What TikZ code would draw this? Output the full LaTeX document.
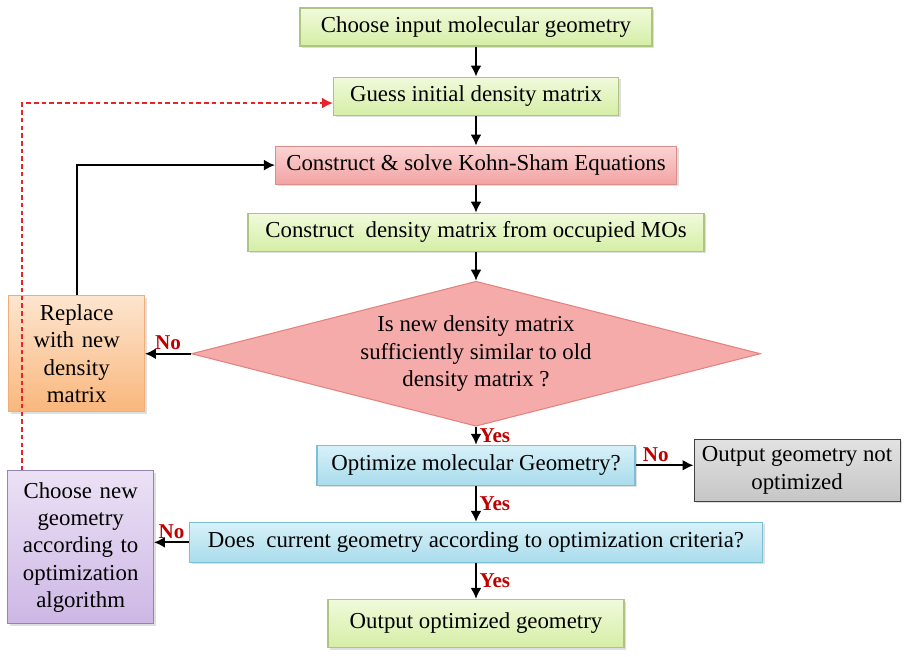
\documentclass[tikz,border=0pt]{standalone}
\usepackage{fontspec}
\setmainfont{Liberation Serif}
\usetikzlibrary{arrows.meta,positioning,shapes.geometric,shadows}
\definecolor{cgrnT}{HTML}{F1FADB}
\definecolor{cgrnB}{HTML}{D5EEA6}
\definecolor{cgrnD}{HTML}{AFC483}
\definecolor{cpnkT}{HTML}{FBD3D3}
\definecolor{cpnkB}{HTML}{F2A3A3}
\definecolor{cpnkD}{HTML}{D98E8C}
\definecolor{cdia}{HTML}{F5ABAA}
\definecolor{cdiaD}{HTML}{E4827F}
\definecolor{cbluT}{HTML}{D8F1F9}
\definecolor{cbluB}{HTML}{A9DCEC}
\definecolor{cbluD}{HTML}{7CC0D6}
\definecolor{corgT}{HTML}{FDE5CF}
\definecolor{corgB}{HTML}{F9B77C}
\definecolor{corgD}{HTML}{EFAE78}
\definecolor{cprpT}{HTML}{EBE1F5}
\definecolor{cprpB}{HTML}{CDB7E5}
\definecolor{cprpD}{HTML}{9584B3}
\definecolor{cgryT}{HTML}{E2E2E2}
\definecolor{cgryB}{HTML}{C6C6C6}
\definecolor{cno}{HTML}{C00000}
\definecolor{cdash}{HTML}{E8242A}
\tikzset{
  fbox/.style={draw, align=center, inner sep=3pt, minimum height=7.6mm,
               font=\fontsize{13}{15.5}\selectfont, line width=0.6pt,
               drop shadow={shadow xshift=1.2pt, shadow yshift=-1.2pt, opacity=0.25}},
  ngrn/.style={fbox, top color=cgrnT, bottom color=cgrnB, draw=cgrnD},
  npnk/.style={fbox, top color=cpnkT, bottom color=cpnkB, draw=cpnkD},
  nblu/.style={fbox, top color=cbluT, bottom color=cbluB, draw=cbluD},
  norg/.style={fbox, top color=corgT, bottom color=corgB, draw=corgD},
  nprp/.style={fbox, top color=cprpT, bottom color=cprpB, draw=cprpD},
  ngry/.style={fbox, top color=cgryT, bottom color=cgryB, draw=black!75},
  ndia/.style={diamond, aspect=3.9, inner sep=0pt, fill=cdia, draw=cdiaD,
               line width=0.6pt, align=center, font=\fontsize{13}{15.5}\selectfont,
               minimum width=11.38cm, minimum height=2.9cm},
  lbl/.style={text=cno, font=\fontsize{12}{14}\selectfont\bfseries, inner sep=1.5pt},
  flow/.style={-{Latex[length=2.2mm,width=2.2mm]}, line width=1.1pt},
  flowd/.style={-{Latex[length=2.2mm,width=2.2mm]}, line width=1.1pt, draw=cdash,
                dash pattern=on 2.6pt off 1.8pt},
}
\begin{document}
\begin{tikzpicture}
  \useasboundingbox (0,0) rectangle (18.12,-13.12);
  % main column
  \node[ngrn, minimum width=7.04cm] (input) at (9.52,-0.54) {Choose input molecular geometry};
  \node[ngrn, minimum width=5.7cm, below=6mm of input] (guess) {Guess initial density matrix};
  \node[npnk, minimum width=8.02cm, below=6mm of guess] (kohn) {Construct \& solve Kohn-Sham Equations};
  \node[ngrn, minimum width=9.12cm, below=5.6mm of kohn] (dens) {Construct\ \ density matrix from occupied MOs};
  \node[ndia, below=5.8mm of dens] (sim) {Is new density matrix\\sufficiently similar to old\\density matrix ?};
  \node[nblu, minimum width=6.36cm, minimum height=8mm, below=3.6mm of sim] (opt) {Optimize molecular Geometry?};
  \node[nblu, minimum width=11.46cm, minimum height=8mm, below=7.2mm of opt] (crit) {Does\ \ current geometry according to optimization criteria?};
  \node[ngrn, minimum width=5.92cm, minimum height=9.6mm, below=7.2mm of crit] (final) {Output optimized geometry};
  % side boxes
  \node[norg, text width=2.5cm, minimum height=2.32cm, left=9.2mm of sim] (repl) {Replace\\with new\\density\\matrix};
  \node[ngry, minimum width=4.12cm, minimum height=1.24cm, right=11.6mm of opt, yshift=-1mm] (notopt) {Output geometry not\\optimized};
  \node[nprp, text width=2.7cm, minimum height=3.06cm, left=7mm of crit, yshift=-1mm] (newgeo) {Choose new\\geometry\\according to\\optimization\\algorithm};
  % arrows
  \draw[flow] (input) -- (guess);
  \draw[flow] (guess) -- (kohn);
  \draw[flow] (kohn) -- (dens);
  \draw[flow] (dens) -- (sim);
  \draw[flow] (sim) -- node[lbl, above] {No} (repl);
  \draw[flow] (repl.north) |- (kohn.west);
  \draw[flow] (sim) -- node[lbl, right] {Yes} (opt);
  \draw[flow] (opt.east) -- node[lbl, above, pos=0.35] {No} (opt.east -| notopt.west);
  \draw[flow] (opt) -- node[lbl, right] {Yes} (crit);
  \draw[flow] (crit.west) -- node[lbl, above] {No} (crit.west -| newgeo.east);
  \draw[flow] (crit) -- node[lbl, right] {Yes} (final);
  \draw[flowd] ([xshift=3mm]newgeo.north west) |- ([yshift=-1.4mm]guess.west);
\end{tikzpicture}
\end{document}
